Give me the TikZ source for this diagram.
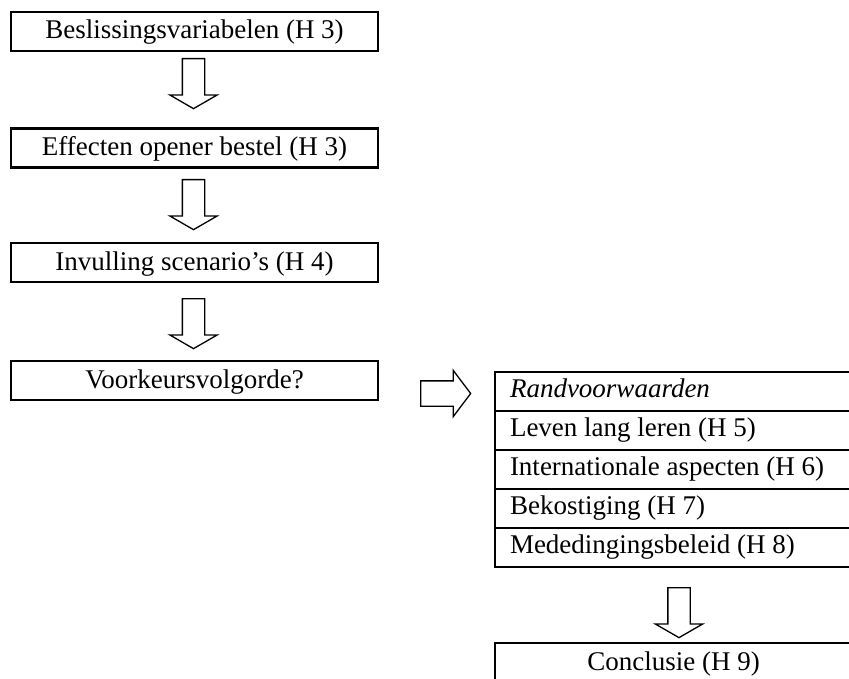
\documentclass[tikz,border=0pt]{standalone}
\usepackage{fontspec}
\setmainfont{Liberation Serif}
\usetikzlibrary{positioning,shapes.arrows}

\tikzset{
  stap/.style={draw,line width=2.4pt,minimum width=367pt,minimum height=39pt,
    inner sep=0pt,text height=21pt,text depth=6pt,font=\fontsize{27}{31}\selectfont},
  rij/.style={draw,line width=2.4pt,minimum height=39pt,inner xsep=15pt,inner ysep=0pt,
    outer sep=0pt,text width=327pt,align=flush left,text height=19pt,text depth=7pt,
    font=\fontsize{27}{31}\selectfont},
  pijl/.style={draw,line width=1.3pt,single arrow,shape border rotate=270,
    minimum height=50pt,inner sep=10.5pt,single arrow head extend=12.5pt,
    single arrow tip angle=120,anchor=tail},
  pijlr/.style={draw,line width=1.3pt,single arrow,minimum height=50pt,
    inner sep=12pt,single arrow head extend=10.5pt,single arrow tip angle=106,anchor=tail}
}

\begin{document}
\begin{tikzpicture}[x=1pt,y=-1pt]
  \useasboundingbox (0,0) rectangle (849,679);
  % linker kolom
  \node[stap] (besl) at (194.5,31.5) {Beslissingsvariabelen (H 3)};
  \node[stap] (eff) at (194.5,148) {Effecten opener bestel (H 3)};
  \node[stap] (invul) at (194.5,262.5) {Invulling scenario's (H 4)};
  \node[stap] (voork) at (194.5,380.5) {Voorkeursvolgorde?};
  \node[pijl] (p1) at (193.5,58) {};
  \node[pijl] (p2) at (193.5,179) {};
  \node[pijl] (p3) at (193.5,298) {};
  \node[pijlr] (p4) at (420,393.5) {};
  % randvoorwaarden
  \node[rij] (rand) at (673.5,391.5) {\textit{Randvoorwaarden}};
  \node[rij,below=0pt of rand] (leven) {Leven lang leren (H 5)};
  \node[rij,below=0pt of leven] (intern) {Internationale aspecten (H 6)};
  \node[rij,below=0pt of intern] (bekost) {Bekostiging (H 7)};
  \node[rij,below=0pt of bekost] (meded) {Mededingingsbeleid (H 8)};
  \node[pijl] (p5) at (679,587) {};
  \node[stap,minimum width=357pt] (concl) at (673.5,662.5) {Conclusie (H 9)};
\end{tikzpicture}
\end{document}
